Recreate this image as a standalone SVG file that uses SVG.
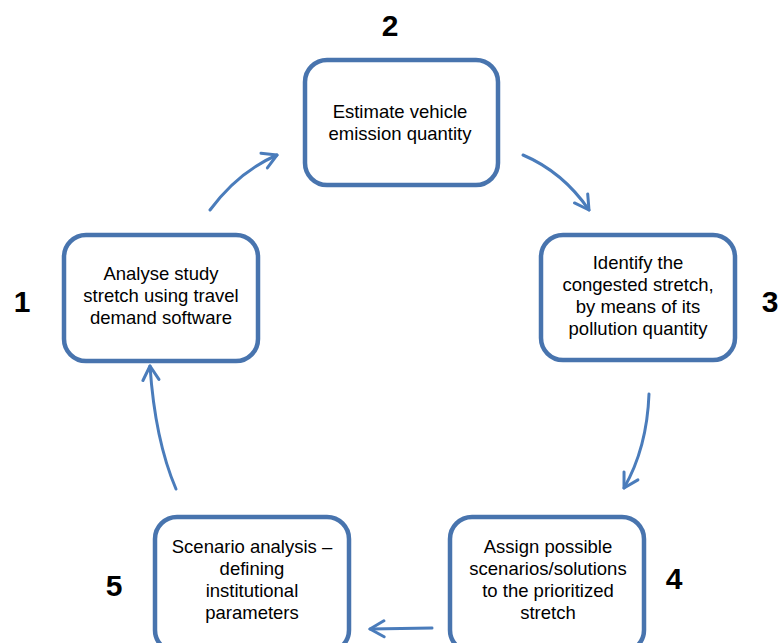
<svg xmlns="http://www.w3.org/2000/svg" width="778" height="643" viewBox="0 0 778 643">
<defs>
<style>
.box{fill:#fff;stroke:#4874ae;stroke-width:4.5}
.t{font-family:"Liberation Sans",Arial,sans-serif;font-size:18.5px;fill:#000;text-anchor:middle}
.n{font-family:"Liberation Sans",Arial,sans-serif;font-size:30px;font-weight:bold;fill:#000;text-anchor:middle}
.c{fill:none;stroke:#4a7cbb;stroke-width:3;stroke-linecap:round}
</style>
<marker id="ah" viewBox="0 0 20 20" refX="18" refY="10" markerWidth="20" markerHeight="20" markerUnits="userSpaceOnUse" orient="auto">
<polyline points="4,2 18,10 4,18" fill="none" stroke="#4a7cbb" stroke-width="3" stroke-linecap="round" stroke-linejoin="round"/>
</marker>
</defs>
<rect width="778" height="643" fill="#fff"/>
<g id="connectors">
<path class="c" d="M210,210 Q238,172 277,155" marker-end="url(#ah)"/>
<path class="c" d="M523,155 Q563,172 589,210" marker-end="url(#ah)"/>
<path class="c" d="M649,394 Q647,448 624,488" marker-end="url(#ah)"/>
<path class="c" d="M432,628 L370,629" marker-end="url(#ah)"/>
<path class="c" d="M176,489 Q155,440 150,366" marker-end="url(#ah)"/>
</g>
<g id="node2">
<rect class="box" x="305" y="60" width="193" height="125" rx="22"/>
<text class="t" x="400" y="118">Estimate vehicle</text>
<text class="t" x="400" y="140">emission quantity</text>
</g>
<g id="node3">
<rect class="box" x="541" y="235" width="194" height="125" rx="22"/>
<text class="t" x="638" y="269">Identify the</text>
<text class="t" x="638" y="291">congested stretch,</text>
<text class="t" x="638" y="313">by means of its</text>
<text class="t" x="638" y="335">pollution quantity</text>
</g>
<g id="node1">
<rect class="box" x="64" y="235" width="194" height="126" rx="22"/>
<text class="t" x="161" y="280">Analyse study</text>
<text class="t" x="161" y="302">stretch using travel</text>
<text class="t" x="161" y="324">demand software</text>
</g>
<g id="node5">
<rect class="box" x="155" y="517" width="194" height="135" rx="22"/>
<text class="t" x="252" y="553">Scenario analysis –</text>
<text class="t" x="252" y="575">defining</text>
<text class="t" x="252" y="597">institutional</text>
<text class="t" x="252" y="619">parameters</text>
</g>
<g id="node4">
<rect class="box" x="450" y="517" width="194" height="135" rx="22"/>
<text class="t" x="548" y="553">Assign possible</text>
<text class="t" x="548" y="575">scenarios/solutions</text>
<text class="t" x="548" y="597">to the prioritized</text>
<text class="t" x="548" y="619">stretch</text>
</g>
<g id="labels">
<text class="n" x="390" y="36">2</text>
<text class="n" x="770" y="312">3</text>
<text class="n" x="22" y="312">1</text>
<text class="n" x="674" y="589">4</text>
<text class="n" x="114" y="596">5</text>
</g>
</svg>
